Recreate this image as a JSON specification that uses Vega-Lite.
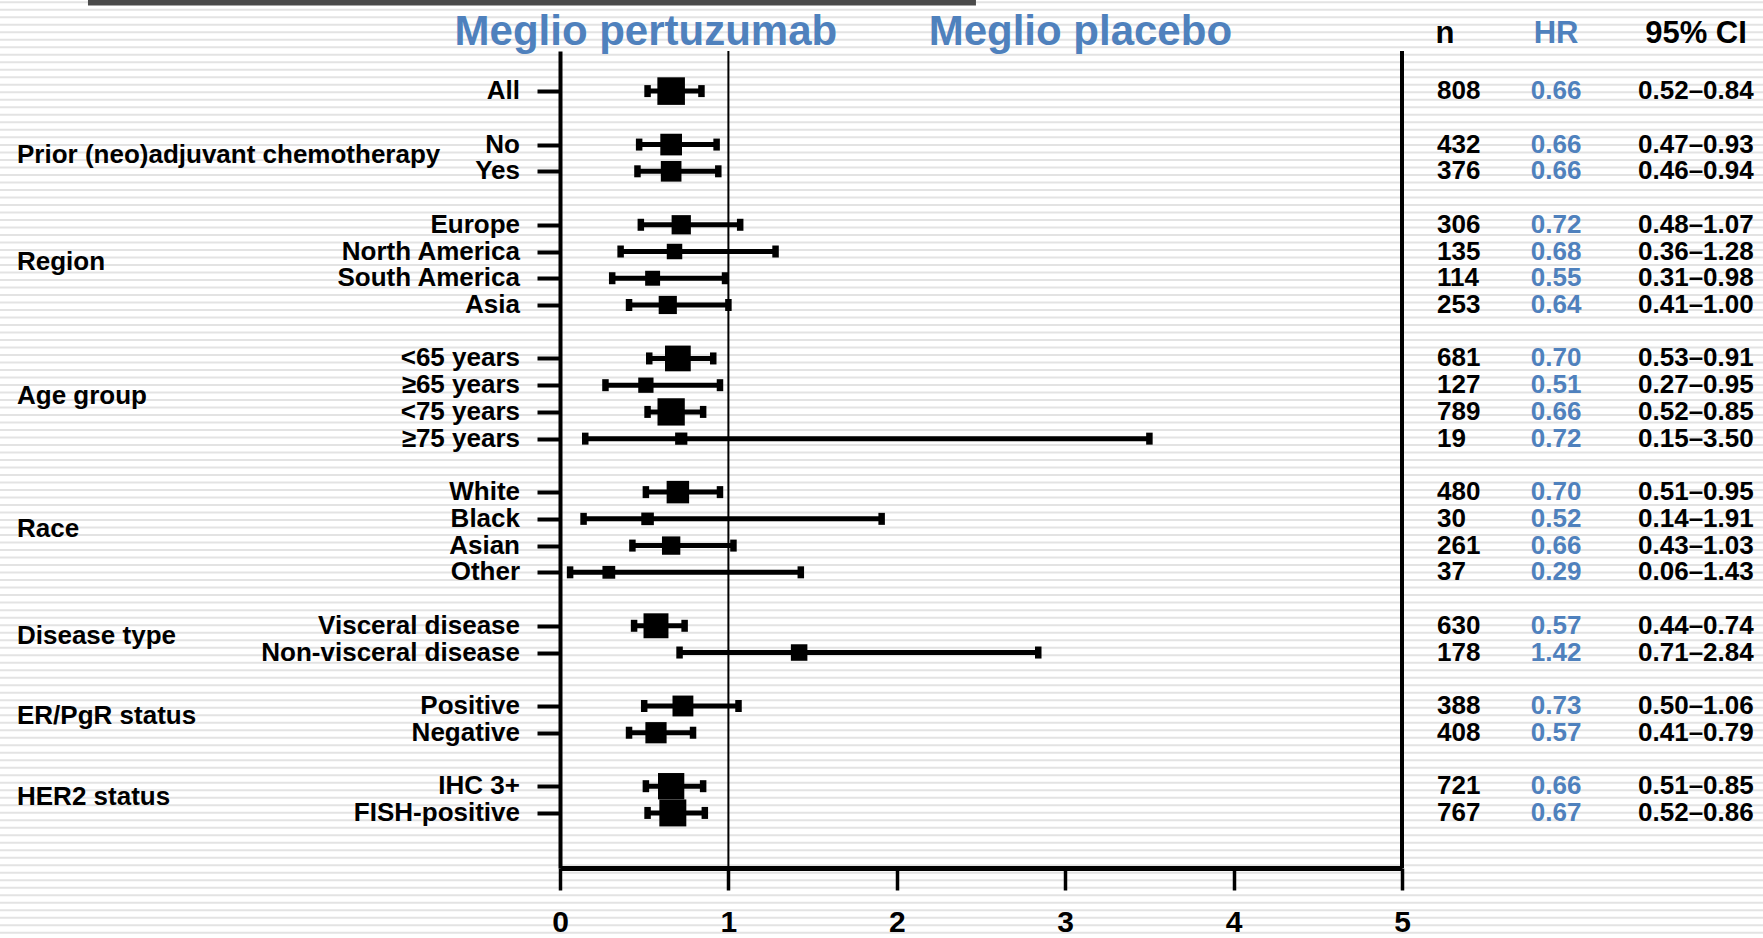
{
  "$schema": "https://vega.github.io/schema/vega-lite/v6.json",
  "width": 1763,
  "height": 938,
  "autosize": "none",
  "padding": 0,
  "background": "#ffffff",
  "config": {"view": {"stroke": null}, "font": "Liberation Sans"},
  "data": {"values": [
    {"label": "All", "group": "", "row": 0, "n": 808, "hr": 0.66, "lo": 0.52, "hi": 0.84},
    {"label": "No", "group": "Prior (neo)adjuvant chemotherapy", "row": 2, "n": 432, "hr": 0.66, "lo": 0.47, "hi": 0.93},
    {"label": "Yes", "group": "Prior (neo)adjuvant chemotherapy", "row": 3, "n": 376, "hr": 0.66, "lo": 0.46, "hi": 0.94},
    {"label": "Europe", "group": "Region", "row": 5, "n": 306, "hr": 0.72, "lo": 0.48, "hi": 1.07},
    {"label": "North America", "group": "Region", "row": 6, "n": 135, "hr": 0.68, "lo": 0.36, "hi": 1.28},
    {"label": "South America", "group": "Region", "row": 7, "n": 114, "hr": 0.55, "lo": 0.31, "hi": 0.98},
    {"label": "Asia", "group": "Region", "row": 8, "n": 253, "hr": 0.64, "lo": 0.41, "hi": 1.00},
    {"label": "<65 years", "group": "Age group", "row": 10, "n": 681, "hr": 0.70, "lo": 0.53, "hi": 0.91},
    {"label": "≥65 years", "group": "Age group", "row": 11, "n": 127, "hr": 0.51, "lo": 0.27, "hi": 0.95},
    {"label": "<75 years", "group": "Age group", "row": 12, "n": 789, "hr": 0.66, "lo": 0.52, "hi": 0.85},
    {"label": "≥75 years", "group": "Age group", "row": 13, "n": 19, "hr": 0.72, "lo": 0.15, "hi": 3.50},
    {"label": "White", "group": "Race", "row": 15, "n": 480, "hr": 0.70, "lo": 0.51, "hi": 0.95},
    {"label": "Black", "group": "Race", "row": 16, "n": 30, "hr": 0.52, "lo": 0.14, "hi": 1.91},
    {"label": "Asian", "group": "Race", "row": 17, "n": 261, "hr": 0.66, "lo": 0.43, "hi": 1.03},
    {"label": "Other", "group": "Race", "row": 18, "n": 37, "hr": 0.29, "lo": 0.06, "hi": 1.43},
    {"label": "Visceral disease", "group": "Disease type", "row": 20, "n": 630, "hr": 0.57, "lo": 0.44, "hi": 0.74},
    {"label": "Non-visceral disease", "group": "Disease type", "row": 21, "n": 178, "hr": 1.42, "lo": 0.71, "hi": 2.84},
    {"label": "Positive", "group": "ER/PgR status", "row": 23, "n": 388, "hr": 0.73, "lo": 0.50, "hi": 1.06},
    {"label": "Negative", "group": "ER/PgR status", "row": 24, "n": 408, "hr": 0.57, "lo": 0.41, "hi": 0.79},
    {"label": "IHC 3+", "group": "HER2 status", "row": 26, "n": 721, "hr": 0.66, "lo": 0.51, "hi": 0.85},
    {"label": "FISH-positive", "group": "HER2 status", "row": 27, "n": 767, "hr": 0.67, "lo": 0.52, "hi": 0.86}
  ]},
  "layer": [
    {
      "data": {"values": [{}]},
      "mark": {"type": "rule", "color": "#e3e3e3", "strokeWidth": 1763, "strokeCap": "butt", "strokeDash": [2, 5.504], "strokeDashOffset": 1.06},
      "encoding": {
        "x": {"datum": 1.9092, "type": "quantitative", "scale": {"domain": [0, 5], "range": [560, 1402], "nice": false, "zero": false}},
        "y": {"datum": -3.6, "type": "quantitative", "scale": {"domain": [-1.5, 29.06], "range": [51, 868], "nice": false, "zero": false}},
        "y2": {"datum": 31.6}
      }
    },
    {
      "data": {"values": [{}]},
      "mark": {"type": "rect", "color": "#4a4a4a", "opacity": 1},
      "encoding": {
        "x": {"datum": -2.803, "type": "quantitative"},
        "x2": {"datum": 2.47},
        "y": {"datum": -3.45, "type": "quantitative"},
        "y2": {"datum": -3.2}
      }
    },
    {
      "data": {"values": [{}]},
      "mark": {"type": "rule", "color": "black", "strokeWidth": 2},
      "encoding": {
        "x": {"datum": 1, "type": "quantitative"},
        "y": {"datum": -1.5, "type": "quantitative"},
        "y2": {"datum": 29.06}
      }
    },
    {
      "data": {"values": [{}]},
      "mark": {"type": "rule", "color": "black", "strokeWidth": 4},
      "encoding": {
        "x": {"datum": 5, "type": "quantitative"},
        "y": {"datum": -1.5, "type": "quantitative"},
        "y2": {"datum": 29.06}
      }
    },
    {
      "mark": {"type": "rule", "color": "black", "strokeWidth": 5},
      "encoding": {
        "x": {"field": "lo", "type": "quantitative", "axis": {"zindex": 2, "values": [0, 1, 2, 3, 4, 5], "format": "d", "title": null, "grid": false, "domainColor": "black", "domainWidth": 5, "tickColor": "black", "tickWidth": 3.5, "tickSize": 22, "labelFont": "Liberation Sans", "labelFontWeight": "bold", "labelFontSize": 30, "labelColor": "black", "labelPadding": 17, "offset": -70, "labelFlush": false, "labelBound": false, "labelOverlap": false}},
        "x2": {"field": "hi"},
        "y": {"field": "row", "type": "quantitative", "axis": {"zindex": 2, "orient": "left", "offset": -560, "values": [0, 2, 3, 5, 6, 7, 8, 10, 11, 12, 13, 15, 16, 17, 18, 20, 21, 23, 24, 26, 27], "labels": false, "title": null, "grid": false, "domainColor": "black", "domainWidth": 4, "tickColor": "black", "tickWidth": 4, "tickSize": 23}}
      }
    },
    {
      "mark": {"type": "tick", "color": "black", "orient": "vertical", "thickness": 6.5, "size": 12, "opacity": 1},
      "encoding": {
        "x": {"field": "lo", "type": "quantitative"},
        "y": {"field": "row", "type": "quantitative"}
      }
    },
    {
      "mark": {"type": "tick", "color": "black", "orient": "vertical", "thickness": 6.5, "size": 12, "opacity": 1},
      "encoding": {
        "x": {"field": "hi", "type": "quantitative"},
        "y": {"field": "row", "type": "quantitative"}
      }
    },
    {
      "mark": {"type": "square", "color": "black", "filled": true, "opacity": 1},
      "encoding": {
        "x": {"field": "hr", "type": "quantitative"},
        "y": {"field": "row", "type": "quantitative"},
        "size": {"field": "n", "type": "quantitative", "scale": {"domain": [19, 808], "range": [150, 760], "zero": false}, "legend": null}
      }
    },
    {
      "mark": {"type": "text", "align": "right", "baseline": "middle", "fontSize": 26, "fontWeight": "bold", "color": "black"},
      "encoding": {
        "x": {"datum": -0.2375, "type": "quantitative"},
        "y": {"field": "row", "type": "quantitative"},
        "text": {"field": "label"}
      }
    },
    {
      "transform": [
        {"filter": "datum.group !== ''"},
        {"aggregate": [{"op": "mean", "field": "row", "as": "mid"}], "groupby": ["group"]}
      ],
      "mark": {"type": "text", "align": "left", "baseline": "middle", "fontSize": 26, "fontWeight": "bold", "color": "black", "dy": -3},
      "encoding": {
        "x": {"datum": -3.2245, "type": "quantitative"},
        "y": {"field": "mid", "type": "quantitative"},
        "text": {"field": "group"}
      }
    },
    {
      "mark": {"type": "text", "align": "left", "baseline": "middle", "fontSize": 26, "fontWeight": "bold", "color": "black"},
      "encoding": {
        "x": {"datum": 5.208, "type": "quantitative"},
        "y": {"field": "row", "type": "quantitative"},
        "text": {"field": "n"}
      }
    },
    {
      "mark": {"type": "text", "align": "center", "baseline": "middle", "fontSize": 26, "fontWeight": "bold", "color": "#4f81bd"},
      "encoding": {
        "x": {"datum": 5.915, "type": "quantitative"},
        "y": {"field": "row", "type": "quantitative"},
        "text": {"field": "hr", "format": ".2f"}
      }
    },
    {
      "transform": [{"calculate": "format(datum.lo, '.2f') + '–' + format(datum.hi, '.2f')", "as": "ci"}],
      "mark": {"type": "text", "align": "center", "baseline": "middle", "fontSize": 26, "fontWeight": "bold", "color": "black"},
      "encoding": {
        "x": {"datum": 6.745, "type": "quantitative"},
        "y": {"field": "row", "type": "quantitative"},
        "text": {"field": "ci"}
      }
    },
    {
      "data": {"values": [{}]},
      "mark": {"type": "text", "align": "center", "baseline": "alphabetic", "fontSize": 31, "fontWeight": "bold", "color": "black", "text": "n"},
      "encoding": {"x": {"datum": 5.255, "type": "quantitative"}, "y": {"datum": -1.8, "type": "quantitative"}}
    },
    {
      "data": {"values": [{}]},
      "mark": {"type": "text", "align": "center", "baseline": "alphabetic", "fontSize": 31, "fontWeight": "bold", "color": "#4f81bd", "text": "HR"},
      "encoding": {"x": {"datum": 5.915, "type": "quantitative"}, "y": {"datum": -1.8, "type": "quantitative"}}
    },
    {
      "data": {"values": [{}]},
      "mark": {"type": "text", "align": "center", "baseline": "alphabetic", "fontSize": 31, "fontWeight": "bold", "color": "black", "text": "95% CI"},
      "encoding": {"x": {"datum": 6.746, "type": "quantitative"}, "y": {"datum": -1.8, "type": "quantitative"}}
    },
    {
      "data": {"values": [{}]},
      "mark": {"type": "text", "align": "center", "baseline": "alphabetic", "fontSize": 42, "fontWeight": "bold", "color": "#4f81bd", "text": "Meglio pertuzumab"},
      "encoding": {"x": {"datum": 0.51, "type": "quantitative"}, "y": {"datum": -1.72, "type": "quantitative"}}
    },
    {
      "data": {"values": [{}]},
      "mark": {"type": "text", "align": "center", "baseline": "alphabetic", "fontSize": 42, "fontWeight": "bold", "color": "#4f81bd", "text": "Meglio placebo"},
      "encoding": {"x": {"datum": 3.09, "type": "quantitative"}, "y": {"datum": -1.72, "type": "quantitative"}}
    }
  ]
}
